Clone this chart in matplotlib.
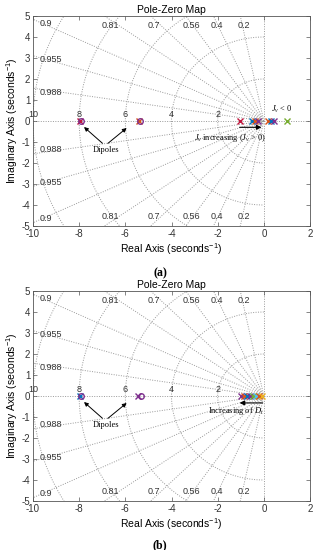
import numpy as np
import matplotlib
matplotlib.use("Agg")
import matplotlib.pyplot as plt

plt.rcParams['font.family'] = ['Liberation Sans', 'DejaVu Sans']
plt.rcParams['mathtext.fontset'] = 'custom'
plt.rcParams['mathtext.rm'] = 'Liberation Sans'
plt.rcParams['mathtext.it'] = 'Liberation Serif:italic'

# grid values
zetas = [0.2, 0.4, 0.56, 0.7, 0.81, 0.9, 0.955, 0.988]
wns = [2, 4, 6, 8, 10]
xticks = [-10, -8, -6, -4, -2, 0, 2]
yticks = [-5, -4, -3, -2, -1, 0, 1, 2, 3, 4, 5]

# MATLAB colours
c_blue = '#0072BD'
c_orange = '#D95319'
c_yellow = '#EDB120'
c_purple = '#7E2F8E'
c_green = '#77AC30'
c_cyan = '#4DBEEE'
c_red = '#C0143C'

# panel (a): poles (x) and zeros (o) on real axis
a_pole_re = [-7.95, -5.42, -1.03, -0.51, -0.38, -0.27, 0.18, 0.31, 0.46, 1.0]
a_pole_col = [c_red, c_orange, c_red, c_blue, c_orange, c_purple,
              c_orange, c_blue, c_purple, c_green]
a_zero_re = [-7.9, -5.36]
a_zero_col = [c_purple, c_purple]

# panel (b)
b_pole_re = [-7.95, -5.45, -1.0, -0.86, -0.73, -0.6, -0.47, -0.35, -0.22, -0.1]
b_pole_col = [c_blue, c_purple, c_purple, c_orange, c_blue, c_purple,
              c_green, c_cyan, c_orange, c_yellow]
b_zero_re = [-7.9, -5.3]
b_zero_col = [c_purple, c_purple]

fig = plt.figure(figsize=(3.19, 5.5), dpi=100)

W, H = 319, 550
txtc = '#333333'


def make_ax(left, top, right, bottom):
    return fig.add_axes([left / W, 1 - bottom / H, (right - left) / W, (bottom - top) / H])


def draw_grid(ax):
    gs = dict(color='#999999', lw=0.7, ls=(0, (1, 1.5)), zorder=1)
    th = np.linspace(np.pi / 2, 3 * np.pi / 2, 200)
    for w in wns:
        ax.plot(w * np.cos(th), w * np.sin(th), **gs)
        ax.text(-w, 0.08, str(w), fontsize=6.5, ha='center', va='bottom', color=txtc)
    for z in zetas:
        ang = np.arccos(z)
        r = 12
        for s in (1, -1):
            ax.plot([0, -r * np.cos(ang)], [0, s * r * np.sin(ang)], **gs)
            xc = -5 / np.tan(ang)
            if xc > -10:
                ax.text(xc - 0.12, s * 4.55, str(z), fontsize=6.5, ha='left', va='center', color=txtc)
            else:
                yc = 10 * np.tan(ang)
                ax.text(-9.7, s * (yc - 0.2), str(z), fontsize=6.5, ha='left', va='center', color=txtc)
    ax.axhline(0, **gs)
    ax.axvline(0, **gs)


def style_ax(ax):
    ax.set_xlim(-10, 2)
    ax.set_ylim(-5, 5)
    ax.set_xticks(xticks)
    ax.set_yticks(yticks)
    ax.set_xticklabels([str(v) for v in xticks])
    ax.set_yticklabels([str(v) for v in yticks])
    ax.tick_params(direction='in', top=True, right=True, labelsize=7, length=3, width=0.5,
                   pad=2, labelcolor=txtc, color='#555555')
    for sp in ax.spines.values():
        sp.set_linewidth(0.6)
        sp.set_color('#555555')
    ax.set_title('Pole-Zero Map', fontsize=7.5, pad=2)
    ax.set_xlabel('Real Axis (seconds$^{-1}$)', fontsize=7.5, labelpad=2)
    ax.set_ylabel('Imaginary Axis (seconds$^{-1}$)', fontsize=7.5, labelpad=1)


def draw_pz(ax, pr, pc, zr, zc):
    for x, c in zip(pr, pc):
        ax.plot(x, 0, 'x', color=c, ms=4, mew=1, zorder=3)
    for x, c in zip(zr, zc):
        ax.plot(x, 0, 'o', color=c, mfc='none', ms=4, mew=1, zorder=3)


def dipoles(ax):
    ap = dict(arrowstyle='-|>', color='black', lw=0.7, mutation_scale=6)
    ax.annotate('', xy=(-7.88, -0.2), xytext=(-6.9, -1.15), arrowprops=ap)
    ax.annotate('', xy=(-5.85, -0.25), xytext=(-6.85, -1.15), arrowprops=ap)
    ax.text(-6.85, -1.2, 'Dipoles', family='Liberation Serif', fontsize=6, ha='center', va='top')


# panel (a)
ax1 = make_ax(33, 16, 310, 226)
draw_grid(ax1)
draw_pz(ax1, a_pole_re, a_pole_col, a_zero_re, a_zero_col)
style_ax(ax1)
dipoles(ax1)
ax1.annotate('', xy=(-0.1, -0.3), xytext=(-1.05, -0.3),
             arrowprops=dict(arrowstyle='-|>', color='black', lw=0.8, mutation_scale=7,
                             shrinkA=0, shrinkB=0))
ax1.text(-1.45, -0.8, r'$J_v$ increasing ($J_v$ > 0)', family='Liberation Serif',
         fontsize=6, ha='center', va='center')
ax1.text(0.3, 0.55, r'$J_v$ < 0', family='Liberation Serif', fontsize=6, ha='left', va='center')
fig.text(160 / W, 1 - 273 / H, '(a)', family='Liberation Serif', fontweight='bold',
         fontsize=8.5, ha='center', va='center')

# panel (b)
ax2 = make_ax(33, 291, 310, 501)
draw_grid(ax2)
draw_pz(ax2, b_pole_re, b_pole_col, b_zero_re, b_zero_col)
style_ax(ax2)
dipoles(ax2)
ax2.annotate('', xy=(-1.05, -0.33), xytext=(-0.05, -0.33),
             arrowprops=dict(arrowstyle='-|>', color='black', lw=0.8, mutation_scale=7,
                             shrinkA=0, shrinkB=0))
ax2.text(-1.2, -0.72, r'Increasing of $D_t$', family='Liberation Serif',
         fontsize=6, ha='center', va='center')
fig.text(160 / W, 1 - 545 / H, '(b)', family='Liberation Serif', fontweight='bold',
         fontsize=8.5, ha='center', va='center')

fig.savefig('out.png', dpi=100)
